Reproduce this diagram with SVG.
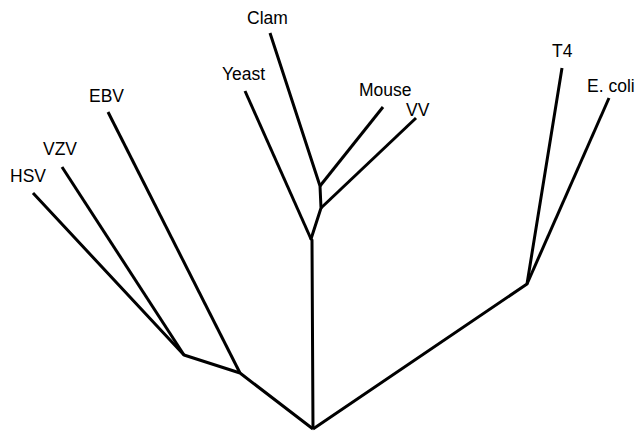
<svg xmlns="http://www.w3.org/2000/svg" width="636" height="431" viewBox="0 0 636 431">
<style>
.e{stroke:#000;stroke-width:3;fill:none;stroke-linejoin:round;stroke-linecap:butt}
text{font-family:"Liberation Sans",Arial,sans-serif;font-size:17.5px;fill:#000}
</style>
<rect width="636" height="431" fill="#fff"/>
<g id="connectors">
<polyline class="e" points="33,193 184,355 240,373 313,429"/>
<line class="e" x1="62" y1="167" x2="184" y2="355"/>
<line class="e" x1="108" y1="112" x2="240" y2="373"/>
<polyline class="e" points="270,33 320,186 321,208 311,239 312,240 313,429"/>
<line class="e" x1="245" y1="91" x2="311" y2="239"/>
<line class="e" x1="383" y1="107" x2="320" y2="186"/>
<line class="e" x1="416" y1="118" x2="321" y2="208"/>
<polyline class="e" points="313,429 527,284 562,68"/>
<line class="e" x1="609" y1="98" x2="527" y2="284"/>
</g>
<g id="HSV"><text x="10" y="182">HSV</text></g>
<g id="VZV"><text x="43" y="155">VZV</text></g>
<g id="EBV"><text x="89" y="102">EBV</text></g>
<g id="Yeast"><text x="222" y="80">Yeast</text></g>
<g id="Clam"><text x="247" y="24">Clam</text></g>
<g id="Mouse"><text x="359" y="96">Mouse</text></g>
<g id="VV"><text x="406" y="116">VV</text></g>
<g id="T4"><text x="552" y="57">T4</text></g>
<g id="Ecoli"><text x="587" y="92">E. coli</text></g>
</svg>
